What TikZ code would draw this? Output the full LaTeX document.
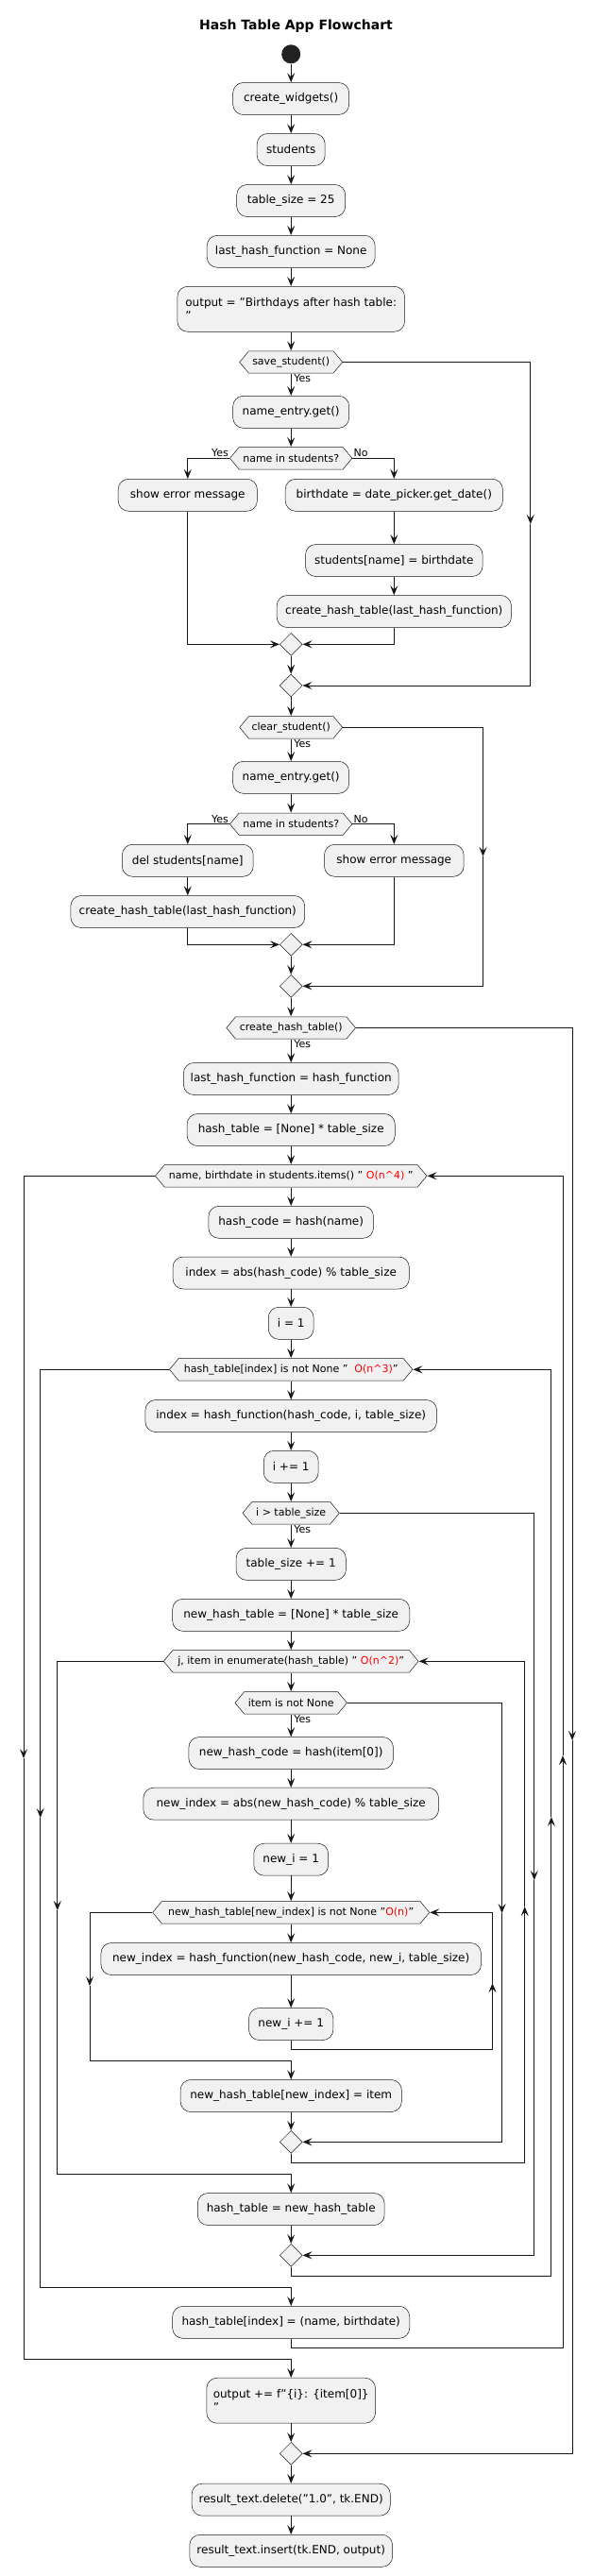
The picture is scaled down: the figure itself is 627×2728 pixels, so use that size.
\documentclass[tikz,border=0pt]{standalone}
\usepackage{fontspec}
\setmainfont{DejaVu Sans}
\usetikzlibrary{arrows.meta,shapes.geometric}
\definecolor{boxfill}{HTML}{F1F1F1}
\definecolor{bcol}{HTML}{181818}
\definecolor{lcol}{HTML}{181818}
\definecolor{startcol}{HTML}{222222}
\definecolor{redtxt}{HTML}{FF0000}
\def\C{308.2}
\begin{document}
\begin{tikzpicture}[x=1pt,y=-1pt,
  act/.style={rectangle, rounded corners=11pt, draw=bcol, line width=0.5pt, fill=boxfill, minimum height=34pt, inner xsep=0pt, inner ysep=0pt, font=\fontsize{12}{14}\selectfont},
  hexa/.style={rectangle, fill=white, minimum height=24pt, inner sep=0pt, font=\fontsize{11}{13}\selectfont,
    path picture={\draw[draw=bcol, fill=boxfill, line width=0.5pt]
      ([xshift=0.3pt]path picture bounding box.west) --
      ([xshift=10pt,yshift=-0.3pt]path picture bounding box.north west) --
      ([xshift=-10pt,yshift=-0.3pt]path picture bounding box.north east) --
      ([xshift=-0.3pt]path picture bounding box.east) --
      ([xshift=-10pt,yshift=0.3pt]path picture bounding box.south east) --
      ([xshift=10pt,yshift=0.3pt]path picture bounding box.south west) -- cycle;}},
  diam/.style={diamond, draw=bcol, fill=boxfill, line width=0.5pt, minimum width=24pt, minimum height=24pt, inner sep=0pt},
  arr/.style={draw=lcol, line width=1pt, -{Stealth[length=10pt,width=8pt,inset=4pt]}},
  lbl/.style={font=\fontsize{11}{13}\selectfont, inner sep=1pt},
  ylbl/.style={lbl, anchor=north west, xshift=2pt}
]
\fill[white] (0,0) rectangle (627,2728);
\useasboundingbox (0,0) rectangle (627,2728);

\node[font=\bfseries\fontsize{14}{16}\selectfont] (title) at (313.5,27.7) {Hash Table App Flowchart};
\node[circle, fill=startcol, minimum size=20pt, inner sep=0pt] (start) at (\C,57.3) {};
\node[act, minimum width=123pt] (cw) at (\C,104.5) {create\_widgets()};
\node[act, minimum width=72pt] (st) at (\C,158.5) {students};
\node[act, minimum width=115pt] (ts) at (\C,212.5) {table\_size = 25};
\node[act, minimum width=178pt] (lhf) at (\C,266.3) {last\_hash\_function = None};
\node[act, minimum width=240.7pt, minimum height=48pt, align=left] (out) at (\C,327.3) {output = "Birthdays after hash table:\\"};
\node[hexa, minimum width=109.5pt] (hsave) at (\C,383.5) {save\_student()};
\node[act, minimum width=123pt] (ne1) at (\C,436.3) {name\_entry.get()};
\node[hexa, minimum width=130pt] (hnis1) at (\C,485.3) {name in students?};
\node[act, minimum width=147.2pt] (err1) at (198.8,524.3) {show error message};
\node[act, minimum width=230.2pt] (bd) at (417.3,524.3) {birthdate = date\_picker.get\_date()};
\node[act, minimum width=187.6pt] (sn) at (417.3,593.5) {students[name] = birthdate};
\node[act, minimum width=248.3pt] (cht1) at (417.3,647.5) {create\_hash\_table(last\_hash\_function)};
\node[diam] (m1) at (\C,682.3) {};
\node[diam] (m2) at (\C,726) {};
\node[hexa, minimum width=109.5pt] (hclear) at (\C,770.3) {clear\_student()};
\node[act, minimum width=123pt] (ne2) at (\C,823.3) {name\_entry.get()};
\node[hexa, minimum width=130pt] (hnis2) at (\C,872.7) {name in students?};
\node[act, minimum width=138.8pt] (del) at (198.8,911.3) {del students[name]};
\node[act, minimum width=147.6pt] (err2) at (417.3,911.3) {show error message};
\node[act, minimum width=247.8pt] (cht2) at (198.8,965.5) {create\_hash\_table(last\_hash\_function)};
\node[diam] (m3) at (\C,1000.3) {};
\node[diam] (m4) at (\C,1044.3) {};
\node[hexa, minimum width=137.3pt] (hcht) at (\C,1088.5) {create\_hash\_table()};
\node[act, minimum width=227.7pt] (lhf2) at (\C,1142.5) {last\_hash\_function = hash\_function};
\node[act, minimum width=220.1pt] (ht) at (\C,1196.5) {hash\_table = [None] * table\_size};
\node[hexa, minimum width=288.1pt] (hw1) at (\C,1245.3) {name, birthdate in students.items() " \textcolor{redtxt}{O(n\textasciicircum 4)} "};
\node[act, minimum width=174.7pt] (hc) at (\C,1294.3) {hash\_code = hash(name)};
\node[act, minimum width=250.3pt] (idx) at (\C,1348) {index = abs(hash\_code) \% table\_size};
\node[act, minimum width=47.9pt] (i1) at (\C,1401.3) {i = 1};
\node[hexa, minimum width=258pt] (hw2) at (\C,1450.3) {hash\_table[index] is not None "\ \ \textcolor{redtxt}{O(n\textasciicircum 3)}"};
\node[act, minimum width=308.7pt] (idx2) at (\C,1499.5) {index = hash\_function(hash\_code, i, table\_size)};
\node[act, minimum width=57.9pt] (inc) at (\C,1553.3) {i += 1};
\node[hexa, minimum width=103pt] (hgt) at (\C,1602.3) {i > table\_size};
\node[act, minimum width=116.3pt] (ts2) at (\C,1656.3) {table\_size += 1};
\node[act, minimum width=251.1pt] (nht) at (\C,1710.3) {new\_hash\_table = [None] * table\_size};
\node[hexa, minimum width=270.5pt] (hw3) at (\C,1759.3) {j, item in enumerate(hash\_table) " \textcolor{redtxt}{O(n\textasciicircum 2)}"};
\node[hexa, minimum width=119.1pt] (hnn) at (\C,1803.3) {item is not None};
\node[act, minimum width=216.5pt] (nhc) at (\C,1856.5) {new\_hash\_code = hash(item[0])};
\node[act, minimum width=312.7pt] (nidx) at (\C,1910.2) {new\_index = abs(new\_hash\_code) \% table\_size};
\node[act, minimum width=78.9pt] (ni1) at (\C,1969.2) {new\_i = 1};
\node[hexa, minimum width=293.7pt] (hw4) at (\C,2025.3) {new\_hash\_table[new\_index] is not None "\textcolor{redtxt}{O(n)}"};
\node[act, minimum width=402.5pt] (nidx2) at (\C,2074.5) {new\_index = hash\_function(new\_hash\_code, new\_i, table\_size)};
\node[act, minimum width=89.3pt] (niinc) at (\C,2143.5) {new\_i += 1};
\node[act, minimum width=234.3pt] (nhtset) at (\C,2219.5) {new\_hash\_table[new\_index] = item};
\node[diam] (m5) at (\C,2268.3) {};
\node[act, minimum width=197.9pt] (htn) at (\C,2339.5) {hash\_table = new\_hash\_table};
\node[diam] (m6) at (\C,2388.3) {};
\node[act, minimum width=251.1pt] (htset) at (\C,2459.3) {hash\_table[index] = (name, birthdate)};
\node[act, minimum width=178.7pt, minimum height=48pt, align=left] (out2) at (\C,2542.2) {output += f"\{i\}: \{item[0]\}\\"};
\node[diam] (m7) at (\C,2598.3) {};
\node[act, minimum width=210.1pt] (rd) at (\C,2647.2) {result\_text.delete("1.0", tk.END)};
\node[act, minimum width=214.9pt] (ri) at (\C,2701.3) {result\_text.insert(tk.END, output)};

% top sequence
\draw[arr] (start.south) -- (cw.north);
\draw[arr] (cw.south) -- (st.north);
\draw[arr] (st.south) -- (ts.north);
\draw[arr] (ts.south) -- (lhf.north);
\draw[arr] (lhf.south) -- (out.north);
\draw[arr] (out.south) -- (hsave.north);
% save_student
\draw[arr] (hsave.south) -- (ne1.north);
\node[ylbl] (y1) at (hsave.south) {Yes};
\coordinate (aS) at (561.8,555);
\draw[arr] (hsave.east) -| (aS);
\draw[arr] (aS) |- (m2.east);
\draw[arr] (ne1.south) -- (hnis1.north);
\draw[arr] (hnis1.west) -| (err1.north);
\node[lbl, anchor=south east] (y2) at (hnis1.west) {Yes};
\draw[arr] (hnis1.east) -| (bd.north);
\node[lbl, anchor=south west] (n2) at (hnis1.east) {No};
\draw[arr] (bd.south) -- (sn.north);
\draw[arr] (sn.south) -- (cht1.north);
\draw[arr] (err1.south) |- (m1.west);
\draw[arr] (cht1.south) |- (m1.east);
\draw[arr] (m1.south) -- (m2.north);
\draw[arr] (m2.south) -- (hclear.north);
% clear_student
\draw[arr] (hclear.south) -- (ne2.north);
\node[ylbl] (y3) at (hclear.south) {Yes};
\coordinate (aC) at (511.5,907);
\draw[arr] (hclear.east) -| (aC);
\draw[arr] (aC) |- (m4.east);
\draw[arr] (ne2.south) -- (hnis2.north);
\draw[arr] (hnis2.west) -| (del.north);
\node[lbl, anchor=south east] (y4) at (hnis2.west) {Yes};
\draw[arr] (hnis2.east) -| (err2.north);
\node[lbl, anchor=south west] (n4) at (hnis2.east) {No};
\draw[arr] (del.south) -- (cht2.north);
\draw[arr] (cht2.south) |- (m3.west);
\draw[arr] (err2.south) |- (m3.east);
\draw[arr] (m3.south) -- (m4.north);
\draw[arr] (m4.south) -- (hcht.north);
% create_hash_table
\draw[arr] (hcht.south) -- (lhf2.north);
\node[ylbl] (y5) at (hcht.south) {Yes};
\coordinate (aH) at (606,1843);
\draw[arr] (hcht.east) -| (aH);
\draw[arr] (aH) |- (m7.east);
\draw[arr] (lhf2.south) -- (ht.north);
\draw[arr] (ht.south) -- (hw1.north);
\draw[arr] (hw1.south) -- (hc.north);
\draw[arr] (hc.south) -- (idx.north);
\draw[arr] (idx.south) -- (i1.north);
\draw[arr] (i1.south) -- (hw2.north);
\draw[arr] (hw2.south) -- (idx2.north);
\draw[arr] (idx2.south) -- (inc.north);
\draw[arr] (inc.south) -- (hgt.north);
\draw[arr] (hgt.south) -- (ts2.north);
\node[ylbl] (y6) at (hgt.south) {Yes};
\coordinate (aG) at (565.8,1991);
\draw[arr] (hgt.east) -| (aG);
\draw[arr] (aG) |- (m6.east);
\draw[arr] (ts2.south) -- (nht.north);
\draw[arr] (nht.south) -- (hw3.north);
\draw[arr] (hw3.south) -- (hnn.north);
\draw[arr] (hnn.south) -- (nhc.north);
\node[ylbl] (y7) at (hnn.south) {Yes};
\coordinate (aN) at (531.6,2026);
\draw[arr] (hnn.east) -| (aN);
\draw[arr] (aN) |- (m5.east);
\draw[arr] (nhc.south) -- (nidx.north);
\draw[arr] (nidx.south) -- (ni1.north);
\draw[arr] (ni1.south) -- (hw4.north);
\draw[arr] (hw4.south) -- (nidx2.north);
\draw[arr] (nidx2.south) -- (niinc.north);
% loop 4
\coordinate (b4) at (521.5,2170.3);
\coordinate (u4) at (521.5,2100);
\draw[arr] (niinc.south) |- (b4) -- (u4);
\draw[arr] (u4) |- (hw4.east);
\coordinate (d4) at (95,2103);
\coordinate (e4) at (95,2182.7);
\draw[arr] (hw4.west) -| (d4);
\draw[arr] (d4) -- (e4) -| (nhtset.north);
\draw[arr] (nhtset.south) -- (m5.north);
% loop 3
\coordinate (b3) at (555.7,2290);
\coordinate (u3) at (555.7,2019);
\draw[arr] (m5.south) |- (b3) -- (u3);
\draw[arr] (u3) |- (hw3.east);
\coordinate (d3) at (60.8,2023);
\coordinate (e3) at (60.8,2302.7);
\draw[arr] (hw3.west) -| (d3);
\draw[arr] (d3) -- (e3) -| (htn.north);
\draw[arr] (htn.south) -- (m6.north);
% loop 2
\coordinate (b2) at (583.9,2410);
\coordinate (u2) at (583.9,1924);
\draw[arr] (m6.south) |- (b2) -- (u2);
\draw[arr] (u2) |- (hw2.east);
\coordinate (d2) at (42.7,1925);
\coordinate (e2) at (42.7,2422.3);
\draw[arr] (hw2.west) -| (d2);
\draw[arr] (d2) -- (e2) -| (htset.north);
% loop 1
\coordinate (b1) at (596,2486);
\coordinate (u1) at (596,1859);
\draw[arr] (htset.south) |- (b1) -- (u1);
\draw[arr] (u1) |- (hw1.east);
\coordinate (d1) at (25,1862);
\coordinate (e1) at (25,2498.3);
\draw[arr] (hw1.west) -| (d1);
\draw[arr] (d1) -- (e1) -| (out2.north);
% end
\draw[arr] (out2.south) -- (m7.north);
\draw[arr] (m7.south) -- (rd.north);
\draw[arr] (rd.south) -- (ri.north);
\end{tikzpicture}
\end{document}
